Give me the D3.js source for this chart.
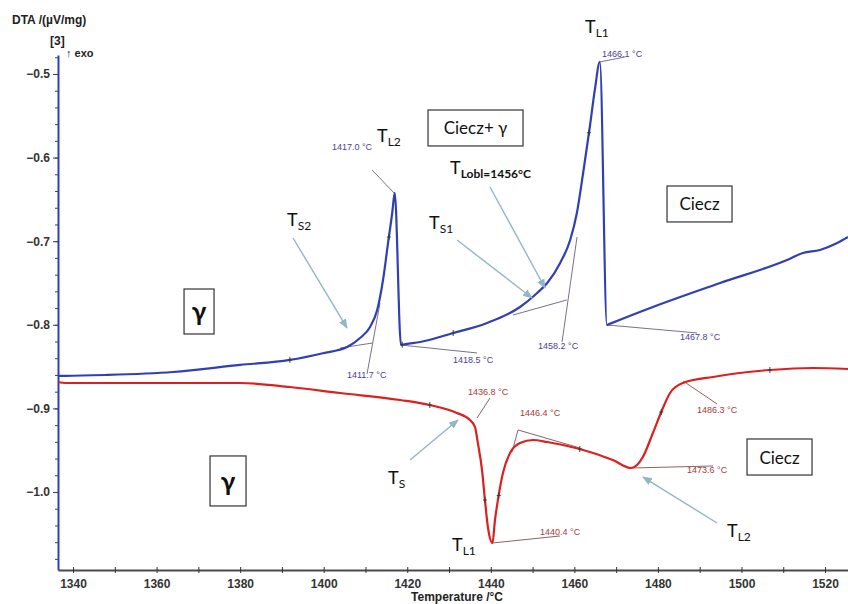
<!DOCTYPE html>
<html>
<head>
<meta charset="utf-8">
<script src="https://cdn.jsdelivr.net/npm/d3@7"></script>
<style>
  html, body { margin: 0; padding: 0; background: #ffffff; }
  svg { display: block; }
</style>
</head>
<body>
<svg id="chart" width="848" height="604"></svg>
<script>
// ---- DTA data: temperature (°C) and signal (µV/mg) ----
// Heating run (blue)
const heatT = [1336.4, 1338.1, 1348.1, 1363.9, 1380.0, 1391.9, 1399.8, 1405.6, 1408.7, 1411.1,
  1412.8, 1414.2, 1415.4, 1416.4, 1417.0, 1418.5, 1419.0, 1423.1, 1431.0, 1439.1, 1447.0,
  1451.1, 1453.5, 1456.6, 1459.0, 1460.6, 1462.1, 1463.7, 1464.9, 1466.1, 1467.8, 1468.3,
  1478.8, 1494.9, 1510.9, 1514.7, 1518.8, 1522.9, 1525.5];
const heatV = [-0.861, -0.861, -0.860, -0.8565, -0.848, -0.842, -0.834, -0.8266, -0.8158, -0.8026,
  -0.7823, -0.7464, -0.7022, -0.6663, -0.6423, -0.8242, -0.8236, -0.8206, -0.8098, -0.7978, -0.7787,
  -0.762, -0.750, -0.726, -0.6986, -0.6663, -0.6184, -0.5634, -0.5191, -0.4856, -0.8002, -0.7992,
  -0.7787, -0.750, -0.7225, -0.7141, -0.7105, -0.7022, -0.695];

// Cooling run (red)
const coolT = [1336.4, 1338.1, 1380.0, 1391.9, 1403.9, 1418.3, 1425.4, 1431.9, 1435.0, 1436.2,
  1436.9, 1437.9, 1438.6, 1439.3, 1440.4, 1441.0, 1441.7, 1442.9, 1444.6, 1447.0,
  1450.1, 1453.5, 1461.3, 1469.2, 1473.6, 1476.4, 1478.8, 1481.0, 1482.9, 1486.0,
  1493.2, 1506.8, 1517.1, 1525.5];
const coolV = [-0.8684, -0.8696, -0.8696, -0.8744, -0.8816, -0.890, -0.896, -0.9055, -0.9139, -0.9222,
  -0.9414, -0.9737, -1.0096, -1.0419, -1.061, -1.0335, -1.0096, -0.9773, -0.9533, -0.9414,
  -0.9378, -0.9402, -0.9486, -0.9617, -0.9713, -0.9581, -0.9294, -0.9019, -0.8816, -0.8696,
  -0.8624, -0.8541, -0.8517, -0.8529];

// Characteristic temperatures picked by the analysis software
const heatEvents = [1411.7, 1417.0, 1418.5, 1458.2, 1466.1, 1467.8];
const coolEvents = [1436.8, 1440.4, 1446.4, 1473.6, 1486.3];

// Small measurement marks along each curve
const heatMarks = [1391.9, 1415.6, 1418.8, 1431.0, 1463.5];
const coolMarks = [1425.4, 1438.6, 1441.9, 1461.3, 1480.8, 1506.8];

// Axis ticks
const xTickLabels = [1340, 1360, 1380, 1400, 1420, 1440, 1460, 1480, 1500, 1520];
const xMinorTicks = d3.range(1340, 1521, 10);
const yTickLabels = [-0.5, -0.6, -0.7, -0.8, -0.9, -1.0];
const yMinorTicks = d3.range(-0.48, -1.09, -0.02).map(v => +v.toFixed(2));

// ---- layout ----
const svg = d3.select("#chart");
const x = d3.scaleLinear().domain([1336.4, 1525.5]).range([58, 848]);
const y = d3.scaleLinear().domain([-0.4773, -1.0933]).range([55, 570]);

const BLUE = "#3040b4";
const RED = "#dc2020";
const AX_FONT = "'Liberation Sans', Arial, sans-serif";
const TXT_FONT = "Lato, 'Open Sans', 'DejaVu Sans', sans-serif";

// ---- axes ----
const gx = svg.append("g").attr("transform", `translate(0,${y.range()[1]})`);
gx.call(d3.axisBottom(x).tickValues(xMinorTicks).tickSize(3).tickSizeOuter(0).tickFormat(""));
gx.select(".domain").attr("stroke", "#4a4a4a").attr("stroke-width", 2.2);
gx.selectAll(".tick line").attr("stroke", "#333").attr("y1", -3).attr("y2", 3);
gx.selectAll(".tick").filter(d => xTickLabels.includes(d)).append("text")
  .attr("y", 18).attr("fill", "#333").attr("text-anchor", "middle")
  .style("font", `bold 12px ${AX_FONT}`).text(d => d);

const gy = svg.append("g").attr("transform", `translate(${x.range()[0]},0)`);
gy.call(d3.axisLeft(y).tickValues(yMinorTicks).tickSize(3).tickSizeOuter(0).tickFormat(""));
gy.select(".domain").attr("stroke", BLUE).attr("stroke-width", 2);
gy.selectAll(".tick line").attr("stroke", "#3a3a7a");
const gyMajor = svg.append("g").attr("transform", `translate(${x.range()[0]},0)`);
gyMajor.call(d3.axisLeft(y).tickValues(yTickLabels).tickSize(5).tickFormat(d3.format(".1f")));
gyMajor.select(".domain").remove();
gyMajor.selectAll(".tick line").attr("stroke", "#3a3a7a");
gyMajor.selectAll(".tick text").attr("fill", "#333").attr("x", -8)
  .style("font", `bold 12px ${AX_FONT}`);

// axis titles
svg.append("text").attr("x", 12).attr("y", 24).attr("fill", "#222")
  .style("font", `bold 12px ${AX_FONT}`).text("DTA /(µV/mg)");
svg.append("text").attr("x", 50).attr("y", 45).attr("fill", "#222")
  .style("font", `bold 12px ${AX_FONT}`).text("[3]");
svg.append("text").attr("x", 66).attr("y", 57).attr("fill", "#222")
  .style("font", `bold 11px ${AX_FONT}`).text("↑ exo");
svg.append("text").attr("x", 457).attr("y", 601).attr("fill", "#222").attr("text-anchor", "middle")
  .style("font", `bold 12px ${AX_FONT}`).text("Temperature /°C");

// ---- curves ----
const line = d3.line().x(d => x(d[0])).y(d => y(d[1])).curve(d3.curveMonotoneX);
const heat = heatT.map((t, i) => [t, heatV[i]]);
const cool = coolT.map((t, i) => [t, coolV[i]]);

function valueAt(series, t) {
  for (let i = 1; i < series.length; i++) {
    if (t <= series[i][0]) {
      const a = series[i - 1], b = series[i];
      const f = (t - a[0]) / (b[0] - a[0]);
      return a[1] + f * (b[1] - a[1]);
    }
  }
  return series[series.length - 1][1];
}

// analysis construction lines (tangents, pointers to value labels), in data units
const heatGuides = [
  [[1411.57, -0.6148], [1416.83, -0.6423]],
  [[1403.91, -0.8278], [1411.7, -0.8218]],
  [[1410.37, -0.8589], [1413.48, -0.7740]],
  [[1418.5, -0.8242], [1436.70, -0.8337]],
  [[1445.32, -0.7883], [1458.2, -0.7703]],
  [[1457.05, -0.8206], [1460.64, -0.6950]],
  [[1466.1, -0.4856], [1472.13, -0.4797]],
  [[1467.8, -0.8002], [1489.36, -0.8098]]
];
const coolGuides = [
  [[1436.70, -0.9115], [1439.81, -0.8876]],
  [[1445.08, -0.9522], [1446.51, -0.9258]],
  [[1446.51, -0.9258], [1461.35, -0.9474]],
  [[1440.4, -1.061], [1456.57, -1.0526]],
  [[1473.6, -0.9713], [1493.19, -0.9689]],
  [[1486.01, -0.8672], [1494.15, -0.8947]]
];

svg.append("g").selectAll("line").data(heatGuides).join("line")
  .attr("x1", d => x(d[0][0])).attr("y1", d => y(d[0][1]))
  .attr("x2", d => x(d[1][0])).attr("y2", d => y(d[1][1]))
  .attr("stroke", "#7d6f8c").attr("stroke-width", 1);
svg.append("g").selectAll("line").data(coolGuides).join("line")
  .attr("x1", d => x(d[0][0])).attr("y1", d => y(d[0][1]))
  .attr("x2", d => x(d[1][0])).attr("y2", d => y(d[1][1]))
  .attr("stroke", "#8c6464").attr("stroke-width", 1);

svg.append("path").datum(cool).attr("d", line)
  .attr("fill", "none").attr("stroke", RED).attr("stroke-width", 2.2);
svg.append("path").datum(heat).attr("d", line)
  .attr("fill", "none").attr("stroke", BLUE).attr("stroke-width", 2.2);

// small "+" marks on the curves
function drawMarks(series, temps) {
  const g = svg.append("g").attr("stroke", "#3b3b3b").attr("stroke-width", 1);
  temps.forEach(t => {
    const px = x(t), py = y(valueAt(series, t));
    g.append("line").attr("x1", px).attr("x2", px).attr("y1", py - 3).attr("y2", py + 3);
    g.append("line").attr("x1", px - 2).attr("x2", px + 2).attr("y1", py).attr("y2", py);
  });
}
drawMarks(heat, heatMarks);
drawMarks(cool, coolMarks);

// ---- value labels (°C) ----
const heatLabelPos = [
  { T: 1405.58, v: -0.8636, a: "start" },
  { T: 1411.57, v: -0.5909, a: "end" },
  { T: 1430.96, v: -0.8457, a: "start" },
  { T: 1451.30, v: -0.8289, a: "start" },
  { T: 1466.62, v: -0.4797, a: "start" },
  { T: 1485.29, v: -0.8182, a: "start" }
];
const coolLabelPos = [
  { T: 1434.55, v: -0.8840, a: "start" },
  { T: 1451.78, v: -1.0514, a: "start" },
  { T: 1447.00, v: -0.9091, a: "start" },
  { T: 1486.97, v: -0.9773, a: "start" },
  { T: 1489.36, v: -0.9055, a: "start" }
];
function drawValueLabels(events, pos, color) {
  svg.append("g").selectAll("text").data(events).join("text")
    .attr("x", (d, i) => x(pos[i].T)).attr("y", (d, i) => y(pos[i].v))
    .attr("text-anchor", (d, i) => pos[i].a)
    .attr("fill", color)
    .style("font", `9px ${AX_FONT}`)
    .text(d => d.toFixed(1) + " °C");
}
drawValueLabels(heatEvents, heatLabelPos, "#4b409c");
drawValueLabels(coolEvents, coolLabelPos, "#a83a3a");

// ---- arrows pointing at transitions ----
svg.append("defs").append("marker")
  .attr("id", "arrow").attr("viewBox", "0 0 10 10").attr("refX", 9).attr("refY", 5)
  .attr("markerWidth", 7).attr("markerHeight", 7).attr("orient", "auto")
  .append("path").attr("d", "M0,1 L10,5 L0,9 Z").attr("fill", "#93b6c6");

const arrows = [
  [[1392.66, -0.6962], [1405.58, -0.8038]],
  [[1431.92, -0.6986], [1449.86, -0.7679]],
  [[1439.81, -0.6352], [1452.98, -0.7560]],
  [[1420.66, -0.9617], [1432.15, -0.9139]],
  [[1494.15, -1.0371], [1476.43, -0.9821]]
];
svg.append("g").selectAll("line").data(arrows).join("line")
  .attr("x1", d => x(d[0][0])).attr("y1", d => y(d[0][1]))
  .attr("x2", d => x(d[1][0])).attr("y2", d => y(d[1][1]))
  .attr("stroke", "#93b6c6").attr("stroke-width", 1.4)
  .attr("marker-end", "url(#arrow)");

// ---- transition symbols ----
const symbols = [
  { main: "T", sub: "L2", T: 1412.77, v: -0.5813 },
  { main: "T", sub: "L1", T: 1462.55, v: -0.4510 },
  { main: "T", sub: "S2", T: 1391.22, v: -0.6818 },
  { main: "T", sub: "S1", T: 1425.21, v: -0.6854 },
  { main: "T", sub: "Lobl=1456°C", T: 1430.24, v: -0.6196 },
  { main: "T", sub: "S", T: 1415.40, v: -0.9904 },
  { main: "T", sub: "L1", T: 1430.72, v: -1.0706 },
  { main: "T", sub: "L2", T: 1496.54, v: -1.0538 }
];
symbols.forEach(s => {
  const t = svg.append("text").attr("x", x(s.T)).attr("y", y(s.v))
    .attr("fill", "#111").style("font", `18px ${TXT_FONT}`);
  t.append("tspan").text(s.main);
  t.append("tspan").attr("dy", 4).style("font-size", "12px")
    .style("font-weight", s.sub.length > 3 ? "bold" : "normal").text(s.sub);
});

// ---- phase region boxes ----
const boxes = [
  { label: "Ciecz+ γ", T0: 1424.97, T1: 1447.71, v0: -0.5431, v1: -0.5861, size: 17 },
  { label: "Ciecz", T0: 1482.18, T1: 1497.74, v0: -0.6340, v1: -0.6770, size: 17 },
  { label: "γ", T0: 1366.57, T1: 1373.75, v0: -0.7572, v1: -0.8110, size: 26 },
  { label: "Ciecz", T0: 1501.33, T1: 1516.89, v0: -0.9366, v1: -0.9797, size: 17 },
  { label: "γ", T0: 1372.79, T1: 1381.41, v0: -0.9569, v1: -1.0167, size: 26 }
];
boxes.forEach(b => {
  const x0 = x(b.T0), x1 = x(b.T1), y0 = y(b.v0), y1 = y(b.v1);
  svg.append("rect").attr("x", x0).attr("y", y0).attr("width", x1 - x0).attr("height", y1 - y0)
    .attr("fill", "#fff").attr("stroke", "#333").attr("stroke-width", 1.2);
  svg.append("text").attr("x", (x0 + x1) / 2).attr("y", (y0 + y1) / 2)
    .attr("text-anchor", "middle").attr("dominant-baseline", "central")
    .attr("fill", "#111").style("font", `${b.size}px ${TXT_FONT}`)
    .style("font-weight", b.label === "γ" ? "bold" : "normal").text(b.label);
});
</script>
</body>
</html>
